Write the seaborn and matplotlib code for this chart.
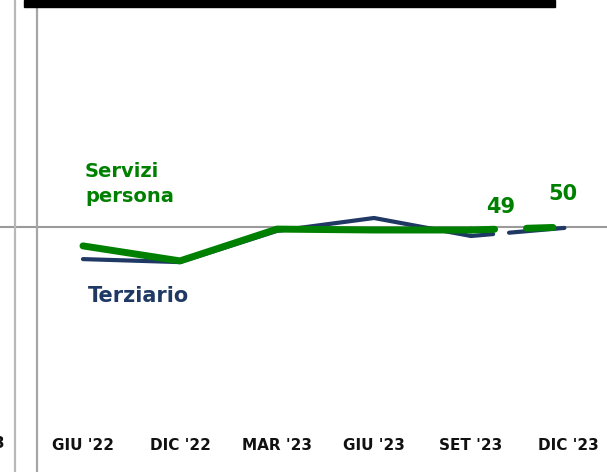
import matplotlib
matplotlib.use('Agg')
import matplotlib.pyplot as plt
import seaborn as sns
import pandas as pd
from matplotlib.patches import Rectangle
from matplotlib.lines import Line2D

# Data
periods = ["GIU '22", "DIC '22", "MAR '23", "GIU '23", "SET '23", "DIC '23"]
terziario = [39.3, 38.3, 48.7, 53.0, 47.0, 49.8]
servizi = [43.7, 38.7, 49.3, 49.0, 49.0, 50.0]
labels_end = [49, 50]
ref_level = 50

NAVY = '#1f3864'
GREEN = '#008000'

sns.set_style('white')
plt.rcParams['font.family'] = ['DejaVu Sans']
plt.rcParams['lines.scale_dashes'] = False

df = pd.DataFrame({'pos': range(len(periods)), 'period': periods,
                   'Terziario': terziario, 'Servizi persona': servizi})
solid = df.iloc[:5]
proj = df.iloc[4:]

W, H = 607, 472
fig = plt.figure(figsize=(W / 100, H / 100), dpi=100)
ax = fig.add_axes([37 / W, 42 / H, 570 / W, 430 / H])

# reference line at 50, running across the whole figure
ax.axhline(ref_level, xmin=-37 / 570, xmax=1, color='#9a9a9a', lw=1.5, clip_on=False, zorder=1)

# Terziario (under) then Servizi persona (over)
sns.lineplot(data=solid, x='pos', y='Terziario', color=NAVY, lw=3, ax=ax,
             solid_capstyle='round', solid_joinstyle='round', zorder=3)
sns.lineplot(data=proj, x='pos', y='Terziario', color=NAVY, lw=3, ax=ax,
             linestyle=(0, (16, 11.5, 40, 5)), dash_capstyle='round', zorder=3)
sns.lineplot(data=solid, x='pos', y='Servizi persona', color=GREEN, lw=5, ax=ax,
             solid_capstyle='round', solid_joinstyle='round', zorder=4)
sns.lineplot(data=proj, x='pos', y='Servizi persona', color=GREEN, lw=5, ax=ax,
             linestyle=(0, (17, 23, 19, 12)), dash_capstyle='round', zorder=4)

ax.set_xlim(-0.474, 5.402)
ax.set_ylim(ref_level - 203 / 3, ref_level + 227 / 3)
ax.set_xticks(df['pos'])
ax.set_xticklabels(periods, fontsize=11, fontweight='bold', color='#111111')
ax.tick_params(axis='x', length=0, pad=6)
ax.set_yticks([])
ax.set_xlabel('')
ax.set_ylabel('')
sns.despine(ax=ax, left=True, bottom=True)

# series labels
ax.text(0.02, 66.7, 'Servizi', color=GREEN, fontsize=14, fontweight='bold', va='baseline')
ax.text(0.02, 58.3, 'persona', color=GREEN, fontsize=14, fontweight='bold', va='baseline')
ax.text(0.05, 25.0, 'Terziario', color=NAVY, fontsize=15, fontweight='bold', va='baseline')
ax.text(4.31, 54.7, str(labels_end[0]), color=GREEN, fontsize=15, fontweight='bold',
        ha='center', va='baseline')
ax.text(4.95, 59.0, str(labels_end[1]), color=GREEN, fontsize=15, fontweight='bold',
        ha='center', va='baseline')

# frame pieces from the surrounding slide
fig.add_artist(Line2D([15 / W, 15 / W], [0, 1], color='#b8b8b8', lw=1.6))
fig.add_artist(Line2D([37 / W, 37 / W], [0, 1], color='#a6a6a6', lw=1.6))
fig.add_artist(Rectangle((24 / W, 1 - 7 / H), 531 / W, 7 / H, color='black', zorder=5))
fig.text(5 / W, 1 - 444 / H, '3', fontsize=11, fontweight='bold', color='#111111',
         ha='right', va='center')

fig.savefig('out.png', dpi=100)
